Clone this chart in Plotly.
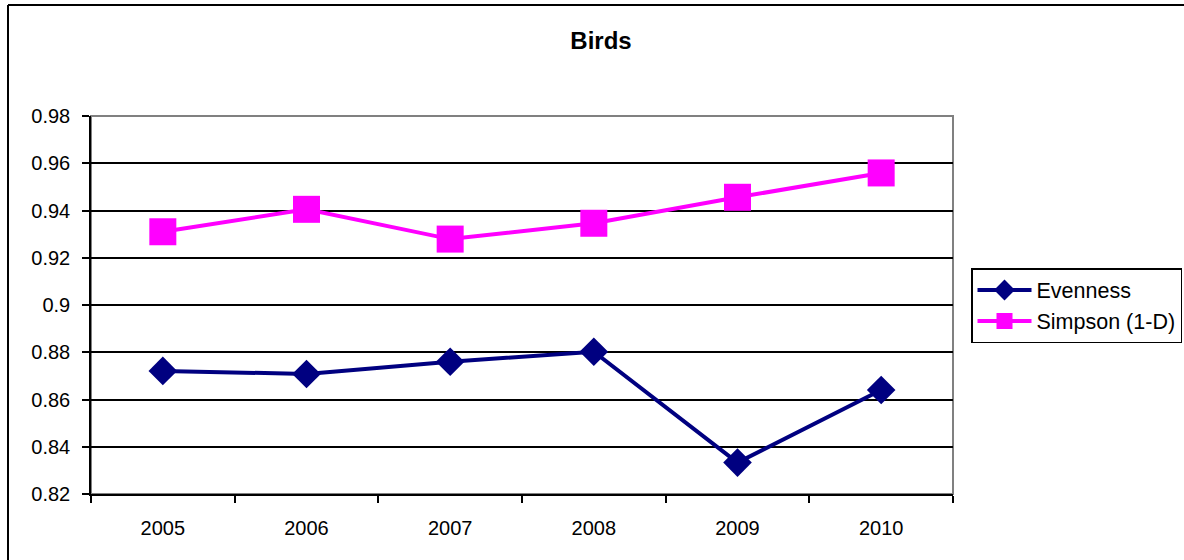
import plotly.graph_objects as go

years = ["2005", "2006", "2007", "2008", "2009", "2010"]
evenness = [0.8721, 0.8708, 0.8760, 0.8802, 0.8333, 0.8640]
simpson = [0.9310, 0.9405, 0.9279, 0.9346, 0.9456, 0.9559]
y_ticks = [0.82, 0.84, 0.86, 0.88, 0.90, 0.92, 0.94, 0.96, 0.98]
y_labels = ["0.82", "0.84", "0.86", "0.88", "0.9", "0.92", "0.94", "0.96", "0.98"]

W, H = 1184, 560
L, R, T, B = 91, 953, 116, 494
pw, ph = R - L, B - T

def px(x):
    return (x - L) / pw

def py(y):
    return (B - y) / ph

fig = go.Figure()
fig.add_trace(go.Scatter(
    x=years, y=evenness, name="Evenness", mode="lines+markers",
    line=dict(color="#000080", width=4),
    marker=dict(symbol="diamond", size=22, color="#000080"),
))
fig.add_trace(go.Scatter(
    x=years, y=simpson, name="Simpson (1-D)", mode="lines+markers",
    line=dict(color="#FF00FF", width=4),
    marker=dict(symbol="square", size=27, color="#FF00FF"),
))

font = "Liberation Sans, Arial, sans-serif"
fig.update_layout(
    width=W, height=H,
    margin=dict(l=L, r=W - R, t=T, b=H - B, autoexpand=False),
    paper_bgcolor="white", plot_bgcolor="white",
    font=dict(family=font, size=20, color="black"),
    title=dict(text="<b>Birds</b>", x=px(601), xref="paper", xanchor="center",
               y=1 - 41 / H, yanchor="middle", font=dict(size=24, family=font)),
    showlegend=True,
    legend=dict(x=px(971), y=py(268), xanchor="left", yanchor="top",
                bordercolor="black", borderwidth=1.5, bgcolor="white",
                font=dict(size=21.5, family=font), itemwidth=54,
                tracegroupgap=0),
    xaxis=dict(type="category", range=[-0.5, 5.5], showline=True, linecolor="black", linewidth=1.5,
               ticks="outside", tickson="boundaries", ticklen=7, tickcolor="black",
               tickwidth=1.5, showgrid=False, tickfont=dict(size=20), ticklabelstandoff=15,
               fixedrange=True),
    yaxis=dict(range=[0.82, 0.98], tickvals=y_ticks, ticktext=y_labels,
               showline=True, linecolor="black", linewidth=1.5,
               ticks="outside", ticklen=7, tickcolor="black", tickwidth=1.5,
               showgrid=True, gridcolor="black", gridwidth=1.5,
               zeroline=False, tickfont=dict(size=20), ticklabelstandoff=8,
               fixedrange=True),
    shapes=[
        dict(type="rect", xref="paper", yref="paper", x0=0, x1=1, y0=0, y1=1,
             line=dict(color="#808080", width=2), layer="below"),
        dict(type="line", xref="paper", yref="paper",
             x0=px(8), x1=px(8), y0=py(5), y1=py(600),
             line=dict(color="black", width=2), layer="above"),
        dict(type="line", xref="paper", yref="paper",
             x0=px(8), x1=px(1250), y0=py(5), y1=py(5),
             line=dict(color="black", width=2), layer="above"),
    ],
)

fig.write_html(
    "out.html",
    config={"displayModeBar": False},
    post_script="document.documentElement.style.overflow='hidden';document.body.style.overflow='hidden';document.body.style.margin='0';",
)
